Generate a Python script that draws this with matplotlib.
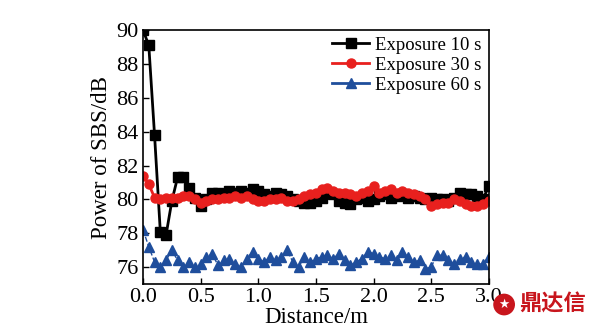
import matplotlib
matplotlib.use("Agg")
import matplotlib.pyplot as plt
import numpy as np

plt.rcParams["font.family"] = ["Liberation Serif", "DejaVu Serif"]

# distance samples (m)
distance = np.round(np.arange(0, 3.0001, 0.05), 2)

# SBS power (dB) for each exposure time
power_10s = [90.0, 89.1, 83.8, 78.1, 77.9, 79.9, 81.3, 81.3, 80.7, 80.1,
             79.6, 80.0, 80.4, 80.4, 80.3, 80.5, 80.4, 80.5, 80.4, 80.6,
             80.5, 80.3, 80.2, 80.4, 80.3, 80.2, 80.0, 79.9, 79.8, 79.8,
             79.9, 80.1, 80.4, 80.3, 79.9, 79.8, 79.7, 80.0, 80.1, 79.9,
             80.0, 80.2, 80.3, 80.1, 80.2, 80.3, 80.1, 80.2, 80.1, 80.0,
             80.1, 80.0, 80.0, 79.9, 80.1, 80.4, 80.3, 80.3, 80.2, 80.0,
             80.8]
power_30s = [81.4, 80.9, 80.1, 80.0, 80.1, 80.1, 80.1, 80.2, 80.2, 80.0,
             79.8, 79.9, 80.0, 80.0, 80.1, 80.1, 80.2, 80.1, 80.2, 80.0,
             79.9, 79.9, 80.0, 80.0, 80.1, 79.9, 79.9, 80.0, 80.2, 80.3,
             80.4, 80.6, 80.7, 80.5, 80.4, 80.4, 80.3, 80.2, 80.4, 80.5,
             80.8, 80.4, 80.5, 80.6, 80.4, 80.5, 80.4, 80.3, 80.2, 80.0,
             79.6, 79.7, 79.8, 79.8, 80.0, 79.9, 79.7, 79.6, 79.6, 79.7,
             79.9]
power_60s = [78.2, 77.2, 76.3, 76.0, 76.4, 77.0, 76.4, 76.0, 76.3, 76.0,
             76.2, 76.6, 76.8, 76.1, 76.4, 76.5, 76.2, 76.0, 76.5, 76.9,
             76.5, 76.3, 76.6, 76.4, 76.6, 77.0, 76.3, 76.0, 76.6, 76.3,
             76.5, 76.6, 76.7, 76.5, 76.8, 76.4, 76.1, 76.3, 76.5, 76.9,
             76.8, 76.6, 76.5, 76.7, 76.4, 76.9, 76.6, 76.3, 76.4, 75.9,
             76.0, 76.7, 76.7, 76.4, 76.2, 76.5, 76.6, 76.3, 76.2, 76.2,
             76.6]

labels = ["Exposure 10 s", "Exposure 30 s", "Exposure 60 s"]

fig = plt.figure(figsize=(5.91, 3.31), dpi=100)
ax = fig.add_axes([0.242, 0.142, 0.585, 0.767])

ax.plot(distance, power_10s, color="black", lw=2, marker="s", ms=6.5,
        label=labels[0])
ax.plot(distance, power_30s, color="#e8201e", lw=2, marker="o", ms=6.5,
        label=labels[1])
ax.plot(distance, power_60s, color="#1f4e9c", lw=1, ls="--", marker="^",
        ms=7.5, label=labels[2])

ax.set_xlim(0, 3)
ax.set_ylim(75, 90)
ax.set_xticks(np.arange(0, 3.01, 0.5))
ax.set_yticks(np.arange(76, 90.1, 2))
ax.tick_params(direction="in", labelsize=16, length=4, width=1, pad=3)
for s in ax.spines.values():
    s.set_linewidth(1.2)

ax.set_xlabel("Distance/m", fontsize=16.5, labelpad=0)
ax.set_ylabel("Power of SBS/dB", fontsize=16.5, labelpad=3)

leg = ax.legend(loc="upper right", frameon=False, fontsize=13.5,
                handlelength=2.0, handletextpad=0.3, labelspacing=0.15,
                borderaxespad=0.0, bbox_to_anchor=(1.0, 1.003))
for h in leg.get_lines():
    h.set_linestyle("-")
    h.set_linewidth(2)

# logo in the corner
fig.text(0.853, 0.08, "\u2605", fontsize=9, color="white",
         ha="center", va="center", family=["DejaVu Sans"],
         bbox=dict(boxstyle="circle,pad=0.35", fc="#c8161d", ec="none"))
fig.text(0.878, 0.08, "鼎达信", fontsize=16, color="#c8161d",
         fontweight="bold", ha="left", va="center",
         family=["Noto Sans CJK SC", "DejaVu Sans"])

fig.savefig("out.png", dpi=100)
